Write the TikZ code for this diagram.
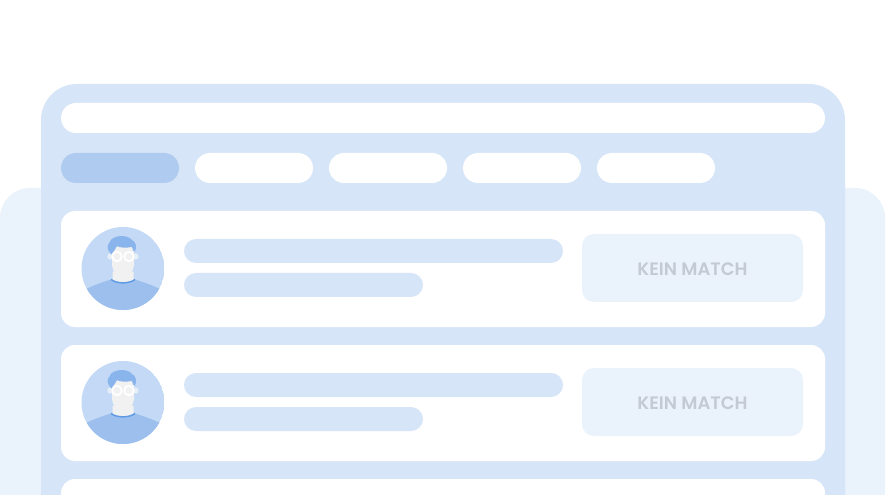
\documentclass[tikz,border=0pt]{standalone}
\usepackage{fontspec}
\setmainfont{Poppins}
\newfontfamily\matchfont{Poppins SemiBold}
\definecolor{backpanel}{HTML}{EAF2FB}
\definecolor{mainpanel}{HTML}{D6E5F8}
\definecolor{activepill}{HTML}{AFCBF0}
\definecolor{avatarbg}{HTML}{C3D9F5}
\definecolor{shirt}{HTML}{9DBFEE}
\definecolor{hair}{HTML}{8AB4EC}
\definecolor{collar}{HTML}{5F9BE3}
\definecolor{skin}{HTML}{F1F1F1}
\definecolor{earcolor}{HTML}{E6EEF8}
\definecolor{matchtext}{HTML}{C4CAD3}
\tikzset{
	x=0.75pt, y=-0.75pt,
	pill/.style = {fill = white, rounded corners = 15*0.75pt},
	bar/.style = {fill = mainpanel, rounded corners = 12*0.75pt},
	card/.style = {fill = white, rounded corners = 14*0.75pt},
	matchbox/.style = {fill = backpanel, rounded corners = 12*0.75pt},
	matchlabel/.style = {text = matchtext, font = \fontsize{13.5pt}{16pt}\matchfont, inner sep = 0pt},
	avatar/.pic = {
		\begin{scope}
		\clip (0,0) circle (41.5);
		\fill[avatarbg] (0,0) circle (41.5);
		\fill[shirt] (-36,20) .. controls (-25,15) and (-18,13) .. (-12,11) -- (12,11) .. controls (18,13) and (25,15) .. (36,20) -- (36,45) -- (-36,45) -- cycle;
		\end{scope}
		\fill[earcolor] (-12.5,-12) circle (3.2);
		\fill[earcolor] (12.5,-12) circle (3.2);
		\fill[skin] (-10.5,3) -- (-10.5,11.5) .. controls (-5,15) and (5,15) .. (10.5,11.5) -- (10.5,3) -- cycle;
		\draw[collar, line width = 1.1pt] (-12,11) .. controls (-6,15.5) and (6,15.5) .. (12,11);
		\fill[skin] (-11,-22) -- (11,-22) -- (11,-3) .. controls (10.5,3) and (5,8.5) .. (0,8.5) .. controls (-5,8.5) and (-10.5,3) .. (-11,-3) -- cycle;
		\fill[hair] (-11.5,-14) .. controls (-16,-18) and (-16.5,-23) .. (-13.5,-26) .. controls (-12,-33) and (4,-35) .. (9,-28.5) .. controls (13,-27) and (14,-21) .. (12,-17) -- (10,-18) -- (9,-21.5) .. controls (3,-20.5) and (-3,-20.5) .. (-6,-22.5) .. controls (-7,-20) and (-9,-18) .. (-11.5,-14) -- cycle;
		\draw[white, line width = 1.4pt] (-6,-12) circle (4.7);
		\draw[white, line width = 1.4pt] (6,-12) circle (4.7);
	}
}

\begin{document}
\begin{tikzpicture}
		\useasboundingbox (0,0) rectangle (885,495);
		\clip (0,0) rectangle (885,495);
		\fill[white] (0,0) rectangle (885,495);
		\fill[backpanel, rounded corners = 30*0.75pt] (0,188) rectangle (885,560);
		\fill[mainpanel, rounded corners = 36*0.75pt] (41,84) rectangle (845,560);
		\fill[pill] (61,103) rectangle (825,133);
		\fill[pill, fill = activepill] (61,153) rectangle (179,183);
		\fill[pill] (195,153) rectangle (313,183);
		\fill[pill] (329,153) rectangle (447,183);
		\fill[pill] (463,153) rectangle (581,183);
		\fill[pill] (597,153) rectangle (715,183);
		\fill[card] (61,211) rectangle (825,327);
		\fill[card] (61,345) rectangle (825,461);
		\fill[card] (61,479) rectangle (825,560);
		\fill[bar] (184,239) rectangle (563,263);
		\fill[bar] (184,273) rectangle (423,297);
		\fill[bar] (184,373) rectangle (563,397);
		\fill[bar] (184,407) rectangle (423,431);
		\fill[matchbox] (582,234) rectangle (803,302);
		\fill[matchbox] (582,368) rectangle (803,436);
		\node[matchlabel] (match one) at (692.5,269.5) {KEIN MATCH};
		\node[matchlabel] (match two) at (692.5,403.5) {KEIN MATCH};
		\pic at (123,268.5) {avatar};
		\pic at (123,402.5) {avatar};
\end{tikzpicture}
\end{document}
